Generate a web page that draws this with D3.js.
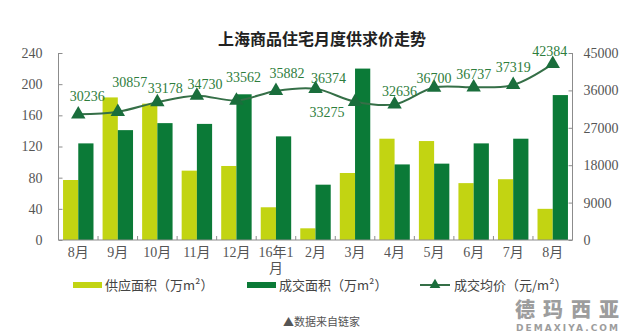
<!DOCTYPE html>
<html>
<head>
<meta charset="utf-8">
<script src="https://cdn.jsdelivr.net/npm/d3@7"></script>
<style>
  html, body { margin: 0; padding: 0; background: #fff; }
  svg { display: block; }
</style>
</head>
<body>
<div id="chart"></div>
<script>
// Monthly supply / transaction area and average price, Shanghai residential
const months = ["8月", "9月", "10月", "11月", "12月", "16年1月", "2月", "3月", "4月", "5月", "6月", "7月", "8月"];
const supplyArea = [77, 183, 175, 89, 95, 42, 15, 86, 130, 127, 73, 78, 40];      // 万㎡
const dealArea   = [124, 141, 150, 149, 187, 133, 71, 220, 97, 98, 124, 130, 186]; // 万㎡
const avgPrice   = [30236, 30857, 33178, 34730, 33562, 35882, 36374, 33275, 32636, 36700, 36737, 37319, 42384]; // 元/㎡
const leftTicks  = [0, 40, 80, 120, 160, 200, 240];
const rightTicks = [0, 9000, 18000, 27000, 36000, 45000];
// label nudges (dx, dy) so the price labels sit clear of the line
const priceLabelNudge = [[9, -18], [12, -30], [8, -14], [8, -12], [7, -23], [11, -18], [13, -11],
                         [-28, 10], [5, -13], [0, -9], [0, -13], [0, -18], [-3, -13]];

const W = 630, H = 333;
const m = { left: 58.5, right: 572.5, top: 53, bottom: 240 };
const cLight = "#c2d412", cDark = "#0b7a37", cLine = "#356f47", cTri = "#1a6e3c";
const cAxis = "#8c8c8c", cText = "#555", cLabel = "#2e7d3c";
const numFont = "'Liberation Serif', 'DejaVu Serif', serif";
const cjkFont = "'Liberation Serif', 'Noto Sans CJK SC', serif";

const svg = d3.select("#chart").append("svg").attr("width", W).attr("height", H);

const x = d3.scaleBand().domain(d3.range(months.length)).range([m.left, m.right])
  .paddingInner(0.23).paddingOuter(0.115);
const xs = d3.scaleBand().domain(["supply", "deal"]).range([0, x.bandwidth()]);
const yL = d3.scaleLinear().domain([0, 240]).range([m.bottom, m.top]);
const yR = d3.scaleLinear().domain([0, 45000]).range([m.bottom, m.top]);
const cx = i => x(i) + x.bandwidth() / 2;

// title
svg.append("text").attr("x", 322).attr("y", 45).attr("text-anchor", "middle")
  .attr("font-family", "'Noto Sans CJK SC', sans-serif").attr("font-weight", "bold")
  .attr("font-size", 16).attr("fill", "#222").text("上海商品住宅月度供求价走势");

// bars
const g = svg.append("g");
g.selectAll("rect.s").data(supplyArea).join("rect").attr("class", "s")
  .attr("x", (d, i) => x(i) + xs("supply")).attr("width", xs.bandwidth())
  .attr("y", d => yL(d)).attr("height", d => yL(0) - yL(d)).attr("fill", cLight);
g.selectAll("rect.d").data(dealArea).join("rect").attr("class", "d")
  .attr("x", (d, i) => x(i) + xs("deal")).attr("width", xs.bandwidth())
  .attr("y", d => yL(d)).attr("height", d => yL(0) - yL(d)).attr("fill", cDark);

// axes
const axL = d3.axisRight(yL).tickValues(leftTicks).tickSize(4).tickFormat(d3.format("d"));
const gL = svg.append("g").attr("transform", `translate(${m.left},0)`).call(axL);
gL.selectAll("text").attr("x", -16).attr("text-anchor", "end");

const axR = d3.axisLeft(yR).tickValues(rightTicks).tickSize(4).tickFormat(d3.format("d"));
const gR = svg.append("g").attr("transform", `translate(${m.right},0)`).call(axR);
gR.selectAll("text").attr("x", 11).attr("text-anchor", "start");

[gL, gR].forEach(a => {
  a.select(".domain").attr("stroke", cAxis).attr("d", `M0,${m.top}V${m.bottom}`);
  a.selectAll(".tick line").attr("stroke", cAxis);
  a.selectAll("text").attr("font-family", numFont).attr("font-size", 14).attr("fill", cText);
});

// bottom axis line with inward ticks between categories
const gB = svg.append("g");
gB.append("line").attr("x1", m.left).attr("x2", m.right).attr("y1", m.bottom).attr("y2", m.bottom)
  .attr("stroke", cAxis);
const step = x.step();
gB.selectAll("line.t").data(d3.range(months.length + 1)).join("line").attr("class", "t")
  .attr("x1", i => m.left + i * step)
  .attr("x2", i => m.left + i * step)
  .attr("y1", m.bottom).attr("y2", m.bottom - 4).attr("stroke", cAxis);

// category labels, the long one wraps its last character
months.forEach((mo, i) => {
  const t = gB.append("text").attr("x", cx(i)).attr("y", 257).attr("text-anchor", "middle")
    .attr("font-family", cjkFont).attr("font-size", 14).attr("fill", cText);
  if (mo.length > 4) {
    t.append("tspan").attr("x", cx(i)).text(mo.slice(0, -1));
    t.append("tspan").attr("x", cx(i)).attr("dy", 16).text(mo.slice(-1));
  } else {
    t.text(mo);
  }
});

// price line
const line = d3.line().x((d, i) => cx(i)).y(d => yR(d)).curve(d3.curveCatmullRom.alpha(0.5));
svg.append("path").datum(avgPrice).attr("d", line).attr("fill", "none")
  .attr("stroke", cLine).attr("stroke-width", 2);
const tri = d3.symbol().type(d3.symbolTriangle).size(90);
svg.selectAll("path.tri").data(avgPrice).join("path").attr("class", "tri")
  .attr("transform", (d, i) => `translate(${cx(i)},${yR(d)})`).attr("d", tri).attr("fill", cTri);

svg.selectAll("text.pl").data(avgPrice).join("text").attr("class", "pl")
  .attr("x", (d, i) => cx(i) + priceLabelNudge[i][0])
  .attr("y", (d, i) => yR(d) + priceLabelNudge[i][1])
  .attr("dy", "0.35em").attr("text-anchor", "middle")
  .attr("font-family", numFont).attr("font-size", 14).attr("fill", cLabel)
  .text(d => d);

// legend
const lg = svg.append("g").attr("font-family", "'Noto Sans CJK SC', sans-serif")
  .attr("font-size", 13).attr("fill", "#444");
lg.append("rect").attr("x", 73).attr("y", 282).attr("width", 29).attr("height", 6).attr("fill", cLight);
lg.append("text").attr("x", 105).attr("y", 290).text("供应面积（万m²）");
lg.append("rect").attr("x", 247).attr("y", 282).attr("width", 29).attr("height", 6).attr("fill", cDark);
lg.append("text").attr("x", 279).attr("y", 290).text("成交面积（万m²）");
lg.append("line").attr("x1", 420).attr("x2", 450).attr("y1", 285).attr("y2", 285)
  .attr("stroke", cLine).attr("stroke-width", 2);
lg.append("path").attr("transform", "translate(435,285)").attr("d", d3.symbol().type(d3.symbolTriangle).size(50))
  .attr("fill", cTri);
lg.append("text").attr("x", 454).attr("y", 290).text("成交均价（元/m²）");

// source note
svg.append("text").attr("x", 283).attr("y", 326).attr("font-family", "'Noto Sans CJK SC', sans-serif")
  .attr("font-size", 11).attr("fill", "#555").text("▲数据来自链家");

// site mark
svg.append("text").attr("x", 567).attr("y", 317).attr("text-anchor", "middle")
  .attr("font-family", "'Noto Sans CJK SC', sans-serif").attr("font-weight", "900")
  .attr("font-size", 20).attr("textLength", 104).attr("fill", "#8d8d8d").attr("opacity", 0.85)
  .text("德玛西亚");
svg.append("text").attr("x", 567).attr("y", 331).attr("text-anchor", "middle")
  .attr("font-family", "'DejaVu Sans', sans-serif").attr("font-weight", "bold")
  .attr("font-size", 9).attr("textLength", 102).attr("fill", "#8d8d8d").attr("opacity", 0.85)
  .text("DEMAXIYA.COM");
</script>
</body>
</html>
